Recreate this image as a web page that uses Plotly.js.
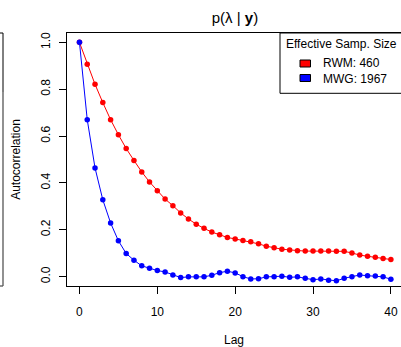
<!DOCTYPE html>
<html>
<head>
<meta charset="utf-8">
<script src="https://cdn.plot.ly/plotly-3.0.1.min.js"></script>
<style>html,body{margin:0;padding:0;background:#fff;}#plot{width:401px;height:347px;}</style>
</head>
<body>
<div id="plot"></div>
<script>
const lags = [0,1,2,3,4,5,6,7,8,9,10,11,12,13,14,15,16,17,18,19,20,21,22,23,24,25,26,27,28,29,30,31,32,33,34,35,36,37,38,39,40];
const rwm = [1.0,0.907,0.821,0.743,0.670,0.606,0.547,0.496,0.447,0.404,0.367,0.331,0.303,0.272,0.246,0.224,0.206,0.190,0.179,0.167,0.161,0.154,0.149,0.140,0.130,0.123,0.117,0.114,0.111,0.109,0.109,0.109,0.109,0.108,0.108,0.101,0.092,0.087,0.083,0.077,0.073];
const mwg = [1.0,0.670,0.464,0.328,0.229,0.153,0.099,0.070,0.046,0.036,0.026,0.020,0.007,-0.004,-0.001,-0.001,-0.001,0.006,0.017,0.023,0.016,0.0,-0.010,-0.009,-0.001,0.0,0.002,-0.003,-0.001,-0.007,-0.013,-0.010,-0.015,-0.018,-0.007,0.0,0.007,0.004,0.003,-0.001,-0.011];
const seriesNames = ["RWM", "MWG"];
const essValues = [460, 1967];
const seriesColors = ["#FF0000", "#0000FF"];
const xTicks = [0,10,20,30,40];
const yTicks = [0.0,0.2,0.4,0.6,0.8,1.0];
const legendTitle = "Effective Samp. Size";

const FONT = "Liberation Sans, Arial, Helvetica, sans-serif";
const W = 401, H = 347, ML = 67, MR = 0, MT = 33, MB = 61;
const PW = W - ML - MR, PH = H - MT - MB;
const px = v => (v - ML) / PW;      // pixel x -> paper x
const py = v => (H - MB - v) / PH;  // pixel y -> paper y

const traces = [rwm, mwg].map((vals, i) => ({
  x: lags, y: vals, type: "scatter", mode: "lines+markers",
  name: seriesNames[i] + ": " + essValues[i],
  line: {color: seriesColors[i], width: 1},
  marker: {color: seriesColors[i], size: 5.5},
  showlegend: false, cliponaxis: false
}));

const shapes = [
  // legend box
  {type: "rect", xref: "paper", yref: "paper", x0: px(280), x1: px(420), y0: py(93.3), y1: 1, line: {color: "#000", width: 1}, fillcolor: "rgba(255,255,255,0)"},
  // stub of neighbouring panel on the left
  {type: "line", xref: "paper", yref: "paper", x0: px(-5), x1: px(3), y0: 1, y1: 1, line: {color: "#000", width: 1}},
  {type: "line", xref: "paper", yref: "paper", x0: px(3), x1: px(3), y0: 1, y1: py(92), line: {color: "#000", width: 1}},
  {type: "line", xref: "paper", yref: "paper", x0: px(3), x1: px(3), y0: py(92), y1: 0, line: {color: "#555", width: 1.3}},
  {type: "line", xref: "paper", yref: "paper", x0: px(-5), x1: px(3), y0: 0, y1: 0, line: {color: "#555", width: 1.3}}
];
const sw = [[60, 67], [74.5, 81.5]];
seriesColors.forEach((c, i) => {
  shapes.push({type: "rect", xref: "paper", yref: "paper", x0: px(300), x1: px(310.5), y0: py(sw[i][1]), y1: py(sw[i][0]), line: {color: "#000", width: 1}, fillcolor: c});
});

const annotations = [
  {xref: "paper", yref: "paper", x: px(283.5), y: py(44), xanchor: "left", yanchor: "middle", text: legendTitle, showarrow: false, font: {family: FONT, size: 12, color: "#000"}}
];
const ty = [63.5, 78.5];
seriesNames.forEach((n, i) => {
  annotations.push({xref: "paper", yref: "paper", x: px(321), y: py(ty[i]), xanchor: "left", yanchor: "middle", text: n + ": " + essValues[i], showarrow: false, font: {family: FONT, size: 12, color: "#000"}});
});

const layout = {
  width: W, height: H,
  margin: {l: ML, r: MR, t: MT, b: MB, pad: 0},
  paper_bgcolor: "#fff", plot_bgcolor: "#fff",
  font: {family: FONT, size: 12, color: "#000"},
  title: {text: "p(λ | <b>y</b>)", x: 235 / W, xanchor: "center", y: 1 - 18 / H, yanchor: "middle", font: {family: FONT, size: 15, color: "#000"}},
  xaxis: {
    range: [-1.6, 41.3], tickvals: xTicks, ticktext: xTicks.map(String),
    ticks: "outside", ticklen: 7, tickwidth: 1, tickcolor: "#000",
    showline: true, linecolor: "#000", linewidth: 1, mirror: true,
    showgrid: false, zeroline: false, ticklabelstandoff: 8,
    tickfont: {family: FONT, size: 12, color: "#000"},
    title: {text: "Lag", font: {family: FONT, size: 12, color: "#000"}, standoff: 18},
    automargin: false
  },
  yaxis: {
    range: [-0.04, 1.04], tickvals: yTicks, ticktext: yTicks.map(v => v.toFixed(1)),
    tickangle: -90,
    ticks: "outside", ticklen: 7, tickwidth: 1, tickcolor: "#000",
    showline: true, linecolor: "#000", linewidth: 1, mirror: false,
    showgrid: false, zeroline: false, ticklabelstandoff: 4,
    tickfont: {family: FONT, size: 12, color: "#000"},
    title: {text: "Autocorrelation", font: {family: FONT, size: 12, color: "#000"}, standoff: 16},
    automargin: false
  },
  shapes: shapes,
  annotations: annotations,
  showlegend: false
};

Plotly.newPlot("plot", traces, layout, {displayModeBar: false, staticPlot: true});
</script>
</body>
</html>
